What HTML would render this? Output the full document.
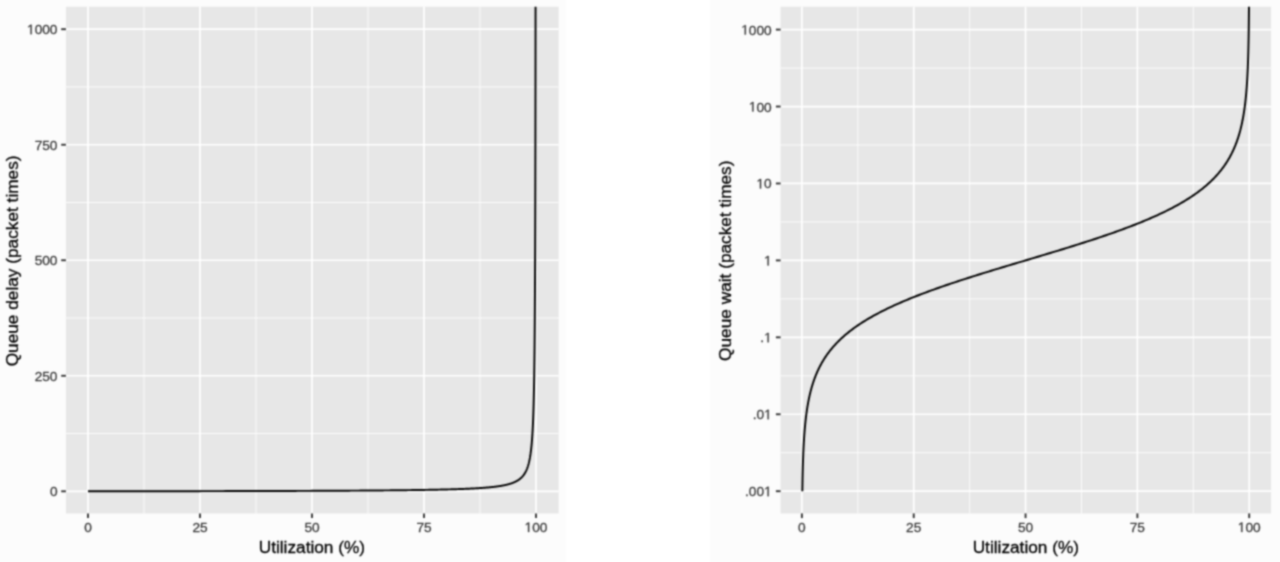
<!DOCTYPE html>
<html><head><meta charset="utf-8"><title>Queue delay vs utilization</title>
<style>
html,body{margin:0;padding:0;background:#ffffff;}
body{width:1280px;height:562px;overflow:hidden;}
svg{display:block;font-family:"Liberation Sans",sans-serif;}
</style></head><body>
<svg width="1280" height="562" viewBox="0 0 1280 562">
<defs><filter id="soft" color-interpolation-filters="sRGB" x="0" y="0" width="1280" height="562" filterUnits="userSpaceOnUse"><feConvolveMatrix order="5 1" kernelMatrix="0.02193 0.22851 0.49912 0.22851 0.02193" edgeMode="duplicate" preserveAlpha="true" result="h"/><feConvolveMatrix in="h" order="1 5" kernelMatrix="0.02193 0.22851 0.49912 0.22851 0.02193" edgeMode="duplicate" preserveAlpha="true"/></filter></defs>
<rect x="0" y="0" width="1280" height="562" fill="#ffffff"/>
<g filter="url(#soft)">
<rect x="-5" y="-5" width="1290" height="572" fill="#ffffff"/>
<g>
<rect x="0" y="-5" width="566" height="572" fill="#fcfcfc"/>
<rect x="65.9" y="6.8" width="492.70" height="506.60" fill="#e7e7e7"/>
<line x1="144.00" x2="144.00" y1="6.8" y2="513.4" stroke="#ffffff" stroke-width="0.85"/>
<line x1="256.00" x2="256.00" y1="6.8" y2="513.4" stroke="#ffffff" stroke-width="0.85"/>
<line x1="368.00" x2="368.00" y1="6.8" y2="513.4" stroke="#ffffff" stroke-width="0.85"/>
<line x1="480.00" x2="480.00" y1="6.8" y2="513.4" stroke="#ffffff" stroke-width="0.85"/>
<line x1="65.9" x2="558.6" y1="433.54" y2="433.54" stroke="#ffffff" stroke-width="0.85"/>
<line x1="65.9" x2="558.6" y1="318.01" y2="318.01" stroke="#ffffff" stroke-width="0.85"/>
<line x1="65.9" x2="558.6" y1="202.49" y2="202.49" stroke="#ffffff" stroke-width="0.85"/>
<line x1="65.9" x2="558.6" y1="86.96" y2="86.96" stroke="#ffffff" stroke-width="0.85"/>
<line x1="88.00" x2="88.00" y1="6.8" y2="513.4" stroke="#ffffff" stroke-width="1.7"/>
<line x1="88.00" x2="88.00" y1="513.4" y2="518.10" stroke="#333333" stroke-width="1.9"/>
<text x="84.19" y="532.00" font-size="13.7" fill="#3a3a3a" stroke="#3a3a3a" stroke-width="0.3">0</text>
<line x1="200.00" x2="200.00" y1="6.8" y2="513.4" stroke="#ffffff" stroke-width="1.7"/>
<line x1="200.00" x2="200.00" y1="513.4" y2="518.10" stroke="#333333" stroke-width="1.9"/>
<text x="192.38" y="532.00" font-size="13.7" fill="#3a3a3a" stroke="#3a3a3a" stroke-width="0.3">25</text>
<line x1="312.00" x2="312.00" y1="6.8" y2="513.4" stroke="#ffffff" stroke-width="1.7"/>
<line x1="312.00" x2="312.00" y1="513.4" y2="518.10" stroke="#333333" stroke-width="1.9"/>
<text x="304.38" y="532.00" font-size="13.7" fill="#3a3a3a" stroke="#3a3a3a" stroke-width="0.3">50</text>
<line x1="424.00" x2="424.00" y1="6.8" y2="513.4" stroke="#ffffff" stroke-width="1.7"/>
<line x1="424.00" x2="424.00" y1="513.4" y2="518.10" stroke="#333333" stroke-width="1.9"/>
<text x="416.38" y="532.00" font-size="13.7" fill="#3a3a3a" stroke="#3a3a3a" stroke-width="0.3">75</text>
<line x1="536.00" x2="536.00" y1="6.8" y2="513.4" stroke="#ffffff" stroke-width="1.7"/>
<line x1="536.00" x2="536.00" y1="513.4" y2="518.10" stroke="#333333" stroke-width="1.9"/>
<path transform="translate(524.57,532.00) scale(0.006689,-0.006689)" d="M515,0 L515,1237 L197,1010 L197,1180 L530,1409 L696,1409 L696,0 Z" fill="#3a3a3a" stroke="#3a3a3a" stroke-width="44.8"/><text x="532.19" y="532.00" font-size="13.7" fill="#3a3a3a" stroke="#3a3a3a" stroke-width="0.3">00</text>
<line x1="65.9" x2="558.6" y1="491.30" y2="491.30" stroke="#ffffff" stroke-width="1.7"/>
<line x1="61.20" x2="65.9" y1="491.30" y2="491.30" stroke="#333333" stroke-width="1.9"/>
<text x="49.88" y="496.30" font-size="13.7" fill="#3a3a3a" stroke="#3a3a3a" stroke-width="0.3">0</text>
<line x1="65.9" x2="558.6" y1="375.77" y2="375.77" stroke="#ffffff" stroke-width="1.7"/>
<line x1="61.20" x2="65.9" y1="375.77" y2="375.77" stroke="#333333" stroke-width="1.9"/>
<text x="34.64" y="380.77" font-size="13.7" fill="#3a3a3a" stroke="#3a3a3a" stroke-width="0.3">250</text>
<line x1="65.9" x2="558.6" y1="260.25" y2="260.25" stroke="#ffffff" stroke-width="1.7"/>
<line x1="61.20" x2="65.9" y1="260.25" y2="260.25" stroke="#333333" stroke-width="1.9"/>
<text x="34.64" y="265.25" font-size="13.7" fill="#3a3a3a" stroke="#3a3a3a" stroke-width="0.3">500</text>
<line x1="65.9" x2="558.6" y1="144.73" y2="144.73" stroke="#ffffff" stroke-width="1.7"/>
<line x1="61.20" x2="65.9" y1="144.73" y2="144.73" stroke="#333333" stroke-width="1.9"/>
<text x="34.64" y="149.73" font-size="13.7" fill="#3a3a3a" stroke="#3a3a3a" stroke-width="0.3">750</text>
<line x1="65.9" x2="558.6" y1="29.20" y2="29.20" stroke="#ffffff" stroke-width="1.7"/>
<line x1="61.20" x2="65.9" y1="29.20" y2="29.20" stroke="#333333" stroke-width="1.9"/>
<path transform="translate(27.02,34.20) scale(0.006689,-0.006689)" d="M515,0 L515,1237 L197,1010 L197,1180 L530,1409 L696,1409 L696,0 Z" fill="#3a3a3a" stroke="#3a3a3a" stroke-width="44.8"/><text x="34.64" y="34.20" font-size="13.7" fill="#3a3a3a" stroke="#3a3a3a" stroke-width="0.3">000</text>
<path d="M88.00,491.30 L92.69,491.30 L97.33,491.29 L101.93,491.29 L106.47,491.28 L110.97,491.28 L115.42,491.27 L119.82,491.26 L124.18,491.26 L128.49,491.25 L132.76,491.25 L136.98,491.24 L141.16,491.24 L145.29,491.23 L149.39,491.23 L153.43,491.22 L157.44,491.22 L161.40,491.21 L165.33,491.20 L169.21,491.20 L173.05,491.19 L176.85,491.19 L180.61,491.18 L184.33,491.17 L188.01,491.17 L191.66,491.16 L195.26,491.15 L198.83,491.15 L202.36,491.14 L205.85,491.14 L209.31,491.13 L212.73,491.12 L216.12,491.11 L219.47,491.11 L222.78,491.10 L226.06,491.09 L229.31,491.09 L232.52,491.08 L235.69,491.07 L238.84,491.07 L241.95,491.06 L245.03,491.05 L248.08,491.04 L251.09,491.04 L254.07,491.03 L257.03,491.02 L259.95,491.01 L262.84,491.00 L265.70,491.00 L268.53,490.99 L271.33,490.98 L274.10,490.97 L276.84,490.96 L279.56,490.95 L282.24,490.95 L284.90,490.94 L287.53,490.93 L290.13,490.92 L292.70,490.91 L295.25,490.90 L297.77,490.89 L300.27,490.88 L302.74,490.87 L305.18,490.87 L307.59,490.86 L309.99,490.85 L312.35,490.84 L314.69,490.83 L317.01,490.82 L319.30,490.81 L321.57,490.80 L323.82,490.79 L326.04,490.78 L328.24,490.77 L330.41,490.76 L332.57,490.74 L334.70,490.73 L336.81,490.72 L338.89,490.71 L340.95,490.70 L343.00,490.69 L345.02,490.68 L347.02,490.67 L349.00,490.66 L350.95,490.64 L352.89,490.63 L354.81,490.62 L356.71,490.61 L358.58,490.60 L360.44,490.58 L362.28,490.57 L364.10,490.56 L365.90,490.55 L367.68,490.53 L369.44,490.52 L371.19,490.51 L372.91,490.49 L374.62,490.48 L376.31,490.47 L377.98,490.45 L379.64,490.44 L381.27,490.42 L382.89,490.41 L384.50,490.40 L386.08,490.38 L387.65,490.37 L389.21,490.35 L390.74,490.34 L392.26,490.32 L393.77,490.31 L395.26,490.29 L396.73,490.28 L398.19,490.26 L399.63,490.24 L401.06,490.23 L402.47,490.21 L403.87,490.20 L405.26,490.18 L406.63,490.16 L407.98,490.15 L409.32,490.13 L410.65,490.11 L411.96,490.09 L413.26,490.08 L414.54,490.06 L415.82,490.04 L417.07,490.02 L418.32,490.00 L419.55,489.98 L420.77,489.97 L421.98,489.95 L423.17,489.93 L424.35,489.91 L425.52,489.89 L426.68,489.87 L427.82,489.85 L428.96,489.83 L430.08,489.81 L431.19,489.79 L432.28,489.77 L433.37,489.74 L434.44,489.72 L435.51,489.70 L436.56,489.68 L437.60,489.66 L438.63,489.64 L439.65,489.61 L440.66,489.59 L441.66,489.57 L442.65,489.54 L443.62,489.52 L444.59,489.50 L445.55,489.47 L446.49,489.45 L447.43,489.42 L448.36,489.40 L449.28,489.37 L450.18,489.35 L451.08,489.32 L451.97,489.30 L452.85,489.27 L453.72,489.25 L454.58,489.22 L455.44,489.19 L456.28,489.17 L457.12,489.14 L457.94,489.11 L458.76,489.08 L459.57,489.05 L460.37,489.02 L461.16,489.00 L461.94,488.97 L462.72,488.94 L463.49,488.91 L464.25,488.88 L465.00,488.85 L465.74,488.82 L466.48,488.78 L467.20,488.75 L467.92,488.72 L468.64,488.69 L469.34,488.66 L470.04,488.62 L470.73,488.59 L471.41,488.56 L472.09,488.52 L472.76,488.49 L473.42,488.45 L474.08,488.42 L474.73,488.38 L475.37,488.35 L476.00,488.31 L476.63,488.28 L477.25,488.24 L477.87,488.20 L478.48,488.16 L479.08,488.13 L479.67,488.09 L480.26,488.05 L480.85,488.01 L481.43,487.97 L482.00,487.93 L482.56,487.89 L483.12,487.85 L483.68,487.81 L484.22,487.76 L484.77,487.72 L485.30,487.68 L485.83,487.64 L486.36,487.59 L486.88,487.55 L487.39,487.50 L487.90,487.46 L488.40,487.41 L488.90,487.37 L489.40,487.32 L489.88,487.27 L490.37,487.23 L490.84,487.18 L491.32,487.13 L491.79,487.08 L492.25,487.03 L492.71,486.98 L493.16,486.93 L493.61,486.88 L494.05,486.83 L494.49,486.77 L494.93,486.72 L495.36,486.67 L495.78,486.61 L496.20,486.56 L496.62,486.51 L497.03,486.45 L497.44,486.39 L497.84,486.34 L498.24,486.28 L498.64,486.22 L499.03,486.16 L499.42,486.10 L499.80,486.04 L500.18,485.98 L500.55,485.92 L500.93,485.86 L501.29,485.80 L501.66,485.73 L502.02,485.67 L502.37,485.61 L502.72,485.54 L503.07,485.48 L503.42,485.41 L503.76,485.34 L504.10,485.27 L504.43,485.20 L504.76,485.14 L505.09,485.07 L505.41,484.99 L505.73,484.92 L506.05,484.85 L506.36,484.78 L506.67,484.70 L506.98,484.63 L507.28,484.55 L507.58,484.48 L507.88,484.40 L508.18,484.32 L508.47,484.24 L508.76,484.16 L509.04,484.08 L509.32,484.00 L509.60,483.92 L509.88,483.84 L510.15,483.75 L510.42,483.67 L510.69,483.58 L510.96,483.50 L511.22,483.41 L511.48,483.32 L511.73,483.23 L511.99,483.14 L512.24,483.05 L512.49,482.96 L512.73,482.86 L512.98,482.77 L513.22,482.67 L513.46,482.58 L513.69,482.48 L513.93,482.38 L514.16,482.28 L514.39,482.18 L514.61,482.08 L514.84,481.98 L515.06,481.88 L515.28,481.77 L515.50,481.67 L515.71,481.56 L515.92,481.45 L516.13,481.34 L516.34,481.23 L516.55,481.12 L516.75,481.01 L516.95,480.89 L517.15,480.78 L517.35,480.66 L517.54,480.55 L517.74,480.43 L517.93,480.31 L518.12,480.19 L518.31,480.06 L518.49,479.94 L518.67,479.81 L518.86,479.69 L519.03,479.56 L519.21,479.43 L519.39,479.30 L519.56,479.17 L519.73,479.03 L519.90,478.90 L520.07,478.76 L520.24,478.63 L520.40,478.49 L520.57,478.35 L520.73,478.21 L520.89,478.06 L521.05,477.92 L521.20,477.77 L521.36,477.62 L521.51,477.47 L521.66,477.32 L521.81,477.17 L521.96,477.01 L522.11,476.86 L522.26,476.70 L522.40,476.54 L522.54,476.38 L522.68,476.22 L522.82,476.05 L522.96,475.89 L523.10,475.72 L523.23,475.55 L523.37,475.38 L523.50,475.20 L523.63,475.03 L523.76,474.85 L523.89,474.67 L524.01,474.49 L524.14,474.31 L524.26,474.12 L524.39,473.94 L524.51,473.75 L524.63,473.56 L524.75,473.37 L524.86,473.17 L524.98,472.97 L525.10,472.78 L525.21,472.57 L525.32,472.37 L525.44,472.17 L525.55,471.96 L525.66,471.75 L525.76,471.54 L525.87,471.32 L525.98,471.11 L526.08,470.89 L526.19,470.67 L526.29,470.44 L526.39,470.22 L526.49,469.99 L526.59,469.76 L526.69,469.53 L526.79,469.29 L526.88,469.05 L526.98,468.81 L527.07,468.57 L527.17,468.33 L527.26,468.08 L527.35,467.83 L527.44,467.57 L527.53,467.32 L527.62,467.06 L527.71,466.80 L527.79,466.53 L527.88,466.27 L527.96,466.00 L528.05,465.72 L528.13,465.45 L528.21,465.17 L528.30,464.89 L528.38,464.61 L528.46,464.32 L528.54,464.03 L528.61,463.73 L528.69,463.44 L528.77,463.14 L528.84,462.83 L528.92,462.53 L528.99,462.22 L529.07,461.91 L529.14,461.59 L529.21,461.27 L529.28,460.95 L529.35,460.62 L529.42,460.29 L529.49,459.96 L529.56,459.62 L529.63,459.28 L529.69,458.94 L529.76,458.59 L529.82,458.24 L529.89,457.89 L529.95,457.53 L530.02,457.17 L530.08,456.80 L530.14,456.43 L530.20,456.06 L530.26,455.68 L530.32,455.30 L530.38,454.91 L530.44,454.52 L530.50,454.13 L530.56,453.73 L530.61,453.33 L530.67,452.92 L530.73,452.51 L530.78,452.09 L530.84,451.67 L530.89,451.25 L530.94,450.82 L531.00,450.39 L531.05,449.95 L531.10,449.51 L531.15,449.06 L531.20,448.61 L531.25,448.15 L531.30,447.69 L531.35,447.22 L531.40,446.75 L531.45,446.28 L531.50,445.79 L531.54,445.31 L531.59,444.82 L531.64,444.32 L531.68,443.82 L531.73,443.31 L531.77,442.80 L531.82,442.28 L531.86,441.76 L531.90,441.23 L531.95,440.69 L531.99,440.15 L532.03,439.61 L532.07,439.05 L532.11,438.50 L532.15,437.93 L532.19,437.36 L532.23,436.79 L532.27,436.21 L532.31,435.62 L532.35,435.02 L532.39,434.42 L532.43,433.82 L532.46,433.20 L532.50,432.58 L532.54,431.96 L532.57,431.32 L532.61,430.68 L532.65,430.04 L532.68,429.39 L532.72,428.73 L532.75,428.06 L532.78,427.38 L532.82,426.70 L532.85,426.01 L532.88,425.32 L532.92,424.62 L532.95,423.91 L532.98,423.19 L533.01,422.46 L533.04,421.73 L533.07,420.99 L533.11,420.24 L533.14,419.48 L533.17,418.72 L533.20,417.94 L533.22,417.16 L533.25,416.37 L533.28,415.58 L533.31,414.77 L533.34,413.95 L533.37,413.13 L533.39,412.30 L533.42,411.46 L533.45,410.61 L533.48,409.75 L533.50,408.88 L533.53,408.00 L533.55,407.12 L533.58,406.22 L533.61,405.32 L533.63,404.40 L533.66,403.48 L533.68,402.54 L533.70,401.60 L533.73,400.65 L533.75,399.68 L533.78,398.71 L533.80,397.72 L533.82,396.73 L533.84,395.72 L533.87,394.71 L533.89,393.68 L533.91,392.64 L533.93,391.59 L533.95,390.53 L533.98,389.46 L534.00,388.38 L534.02,387.28 L534.04,386.18 L534.06,385.06 L534.08,383.93 L534.10,382.79 L534.12,381.64 L534.14,380.47 L534.16,379.30 L534.18,378.11 L534.20,376.90 L534.22,375.69 L534.24,374.46 L534.25,373.22 L534.27,371.96 L534.29,370.70 L534.31,369.42 L534.33,368.12 L534.34,366.81 L534.36,365.49 L534.38,364.15 L534.39,362.80 L534.41,361.44 L534.43,360.06 L534.44,358.67 L534.46,357.26 L534.48,355.83 L534.49,354.40 L534.51,352.94 L534.52,351.47 L534.54,349.99 L534.56,348.49 L534.57,346.97 L534.59,345.44 L534.60,343.89 L534.61,342.33 L534.63,340.75 L534.64,339.15 L534.66,337.53 L534.67,335.90 L534.69,334.25 L534.70,332.59 L534.71,330.90 L534.73,329.20 L534.74,327.48 L534.75,325.74 L534.77,323.98 L534.78,322.21 L534.79,320.41 L534.80,318.60 L534.82,316.77 L534.83,314.92 L534.84,313.05 L534.85,311.15 L534.87,309.24 L534.88,307.31 L534.89,305.36 L534.90,303.39 L534.91,301.39 L534.92,299.38 L534.94,297.34 L534.95,295.29 L534.96,293.21 L534.97,291.11 L534.98,288.98 L534.99,286.84 L535.00,284.67 L535.01,282.48 L535.02,280.26 L535.03,278.03 L535.04,275.76 L535.05,273.48 L535.06,271.17 L535.07,268.83 L535.08,266.48 L535.09,264.09 L535.10,261.68 L535.11,259.25 L535.12,256.79 L535.13,254.30 L535.14,251.79 L535.15,249.25 L535.16,246.68 L535.16,244.09 L535.17,241.47 L535.18,238.82 L535.19,236.14 L535.20,233.44 L535.21,230.70 L535.22,227.94 L535.22,225.15 L535.23,222.33 L535.24,219.48 L535.25,216.60 L535.26,213.69 L535.26,210.74 L535.27,207.77 L535.28,204.76 L535.29,201.73 L535.29,198.66 L535.30,195.56 L535.31,192.42 L535.32,189.25 L535.32,186.05 L535.33,182.82 L535.34,179.55 L535.34,176.25 L535.35,172.91 L535.36,169.53 L535.36,166.12 L535.37,162.68 L535.38,159.20 L535.38,155.68 L535.39,152.12 L535.40,148.53 L535.40,144.89 L535.41,141.22 L535.42,137.51 L535.42,133.77 L535.43,129.98 L535.43,126.15 L535.44,122.28 L535.45,118.37 L535.45,114.42 L535.46,110.43 L535.46,106.39 L535.47,102.31 L535.47,98.19 L535.48,94.03 L535.48,89.82 L535.49,85.57 L535.50,81.27 L535.50,76.92 L535.51,72.53 L535.51,68.10 L535.52,63.61 L535.52,59.08 L535.53,54.51 L535.53,49.88 L535.54,45.20 L535.54,40.48 L535.55,35.70 L535.55,30.88 L535.56,26.00 L535.56,21.07 L535.56,16.09 L535.57,11.06 L535.57,6.80" fill="none" stroke="#000000" stroke-width="1.95" stroke-linejoin="round" stroke-linecap="butt"/>
<text x="311.90" y="552.50" font-size="17.25" fill="#000000" stroke="#000000" stroke-width="0.3" text-anchor="middle">Utilization (%)</text>
<text transform="translate(17.90,260.90) rotate(-90)" font-size="17.25" fill="#000000" stroke="#000000" stroke-width="0.3" text-anchor="middle">Queue delay (packet times)</text>
</g>
<g>
<rect x="710" y="-5" width="575" height="572" fill="#fcfcfc"/>
<rect x="780.6" y="6.7" width="490.50" height="506.70" fill="#e7e7e7"/>
<line x1="857.81" x2="857.81" y1="6.7" y2="513.4" stroke="#ffffff" stroke-width="0.85"/>
<line x1="969.64" x2="969.64" y1="6.7" y2="513.4" stroke="#ffffff" stroke-width="0.85"/>
<line x1="1081.46" x2="1081.46" y1="6.7" y2="513.4" stroke="#ffffff" stroke-width="0.85"/>
<line x1="1193.29" x2="1193.29" y1="6.7" y2="513.4" stroke="#ffffff" stroke-width="0.85"/>
<line x1="780.6" x2="1271.1" y1="452.73" y2="452.73" stroke="#ffffff" stroke-width="0.85"/>
<line x1="780.6" x2="1271.1" y1="375.80" y2="375.80" stroke="#ffffff" stroke-width="0.85"/>
<line x1="780.6" x2="1271.1" y1="298.87" y2="298.87" stroke="#ffffff" stroke-width="0.85"/>
<line x1="780.6" x2="1271.1" y1="221.93" y2="221.93" stroke="#ffffff" stroke-width="0.85"/>
<line x1="780.6" x2="1271.1" y1="145.00" y2="145.00" stroke="#ffffff" stroke-width="0.85"/>
<line x1="780.6" x2="1271.1" y1="68.07" y2="68.07" stroke="#ffffff" stroke-width="0.85"/>
<line x1="801.90" x2="801.90" y1="6.7" y2="513.4" stroke="#ffffff" stroke-width="1.7"/>
<line x1="801.90" x2="801.90" y1="513.4" y2="518.10" stroke="#333333" stroke-width="1.9"/>
<text x="798.09" y="532.00" font-size="13.7" fill="#3a3a3a" stroke="#3a3a3a" stroke-width="0.3">0</text>
<line x1="913.73" x2="913.73" y1="6.7" y2="513.4" stroke="#ffffff" stroke-width="1.7"/>
<line x1="913.73" x2="913.73" y1="513.4" y2="518.10" stroke="#333333" stroke-width="1.9"/>
<text x="906.11" y="532.00" font-size="13.7" fill="#3a3a3a" stroke="#3a3a3a" stroke-width="0.3">25</text>
<line x1="1025.55" x2="1025.55" y1="6.7" y2="513.4" stroke="#ffffff" stroke-width="1.7"/>
<line x1="1025.55" x2="1025.55" y1="513.4" y2="518.10" stroke="#333333" stroke-width="1.9"/>
<text x="1017.93" y="532.00" font-size="13.7" fill="#3a3a3a" stroke="#3a3a3a" stroke-width="0.3">50</text>
<line x1="1137.38" x2="1137.38" y1="6.7" y2="513.4" stroke="#ffffff" stroke-width="1.7"/>
<line x1="1137.38" x2="1137.38" y1="513.4" y2="518.10" stroke="#333333" stroke-width="1.9"/>
<text x="1129.76" y="532.00" font-size="13.7" fill="#3a3a3a" stroke="#3a3a3a" stroke-width="0.3">75</text>
<line x1="1249.20" x2="1249.20" y1="6.7" y2="513.4" stroke="#ffffff" stroke-width="1.7"/>
<line x1="1249.20" x2="1249.20" y1="513.4" y2="518.10" stroke="#333333" stroke-width="1.9"/>
<path transform="translate(1237.77,532.00) scale(0.006689,-0.006689)" d="M515,0 L515,1237 L197,1010 L197,1180 L530,1409 L696,1409 L696,0 Z" fill="#3a3a3a" stroke="#3a3a3a" stroke-width="44.8"/><text x="1245.39" y="532.00" font-size="13.7" fill="#3a3a3a" stroke="#3a3a3a" stroke-width="0.3">00</text>
<line x1="780.6" x2="1271.1" y1="491.20" y2="491.20" stroke="#ffffff" stroke-width="1.7"/>
<line x1="775.90" x2="780.6" y1="491.20" y2="491.20" stroke="#333333" stroke-width="1.9"/>
<text x="745.04" y="496.20" font-size="13.7" fill="#3a3a3a" stroke="#3a3a3a" stroke-width="0.3">.00</text><path transform="translate(764.08,496.20) scale(0.006689,-0.006689)" d="M515,0 L515,1237 L197,1010 L197,1180 L530,1409 L696,1409 L696,0 Z" fill="#3a3a3a" stroke="#3a3a3a" stroke-width="44.8"/>
<line x1="780.6" x2="1271.1" y1="414.27" y2="414.27" stroke="#ffffff" stroke-width="1.7"/>
<line x1="775.90" x2="780.6" y1="414.27" y2="414.27" stroke="#333333" stroke-width="1.9"/>
<text x="752.66" y="419.27" font-size="13.7" fill="#3a3a3a" stroke="#3a3a3a" stroke-width="0.3">.0</text><path transform="translate(764.08,419.27) scale(0.006689,-0.006689)" d="M515,0 L515,1237 L197,1010 L197,1180 L530,1409 L696,1409 L696,0 Z" fill="#3a3a3a" stroke="#3a3a3a" stroke-width="44.8"/>
<line x1="780.6" x2="1271.1" y1="337.33" y2="337.33" stroke="#ffffff" stroke-width="1.7"/>
<line x1="775.90" x2="780.6" y1="337.33" y2="337.33" stroke="#333333" stroke-width="1.9"/>
<text x="760.27" y="342.33" font-size="13.7" fill="#3a3a3a" stroke="#3a3a3a" stroke-width="0.3">.</text><path transform="translate(764.08,342.33) scale(0.006689,-0.006689)" d="M515,0 L515,1237 L197,1010 L197,1180 L530,1409 L696,1409 L696,0 Z" fill="#3a3a3a" stroke="#3a3a3a" stroke-width="44.8"/>
<line x1="780.6" x2="1271.1" y1="260.40" y2="260.40" stroke="#ffffff" stroke-width="1.7"/>
<line x1="775.90" x2="780.6" y1="260.40" y2="260.40" stroke="#333333" stroke-width="1.9"/>
<path transform="translate(764.08,265.40) scale(0.006689,-0.006689)" d="M515,0 L515,1237 L197,1010 L197,1180 L530,1409 L696,1409 L696,0 Z" fill="#3a3a3a" stroke="#3a3a3a" stroke-width="44.8"/>
<line x1="780.6" x2="1271.1" y1="183.47" y2="183.47" stroke="#ffffff" stroke-width="1.7"/>
<line x1="775.90" x2="780.6" y1="183.47" y2="183.47" stroke="#333333" stroke-width="1.9"/>
<path transform="translate(756.46,188.47) scale(0.006689,-0.006689)" d="M515,0 L515,1237 L197,1010 L197,1180 L530,1409 L696,1409 L696,0 Z" fill="#3a3a3a" stroke="#3a3a3a" stroke-width="44.8"/><text x="764.08" y="188.47" font-size="13.7" fill="#3a3a3a" stroke="#3a3a3a" stroke-width="0.3">0</text>
<line x1="780.6" x2="1271.1" y1="106.53" y2="106.53" stroke="#ffffff" stroke-width="1.7"/>
<line x1="775.90" x2="780.6" y1="106.53" y2="106.53" stroke="#333333" stroke-width="1.9"/>
<path transform="translate(748.84,111.53) scale(0.006689,-0.006689)" d="M515,0 L515,1237 L197,1010 L197,1180 L530,1409 L696,1409 L696,0 Z" fill="#3a3a3a" stroke="#3a3a3a" stroke-width="44.8"/><text x="756.46" y="111.53" font-size="13.7" fill="#3a3a3a" stroke="#3a3a3a" stroke-width="0.3">00</text>
<line x1="780.6" x2="1271.1" y1="29.60" y2="29.60" stroke="#ffffff" stroke-width="1.7"/>
<line x1="775.90" x2="780.6" y1="29.60" y2="29.60" stroke="#333333" stroke-width="1.9"/>
<path transform="translate(741.22,34.60) scale(0.006689,-0.006689)" d="M515,0 L515,1237 L197,1010 L197,1180 L530,1409 L696,1409 L696,0 Z" fill="#3a3a3a" stroke="#3a3a3a" stroke-width="44.8"/><text x="748.84" y="34.60" font-size="13.7" fill="#3a3a3a" stroke="#3a3a3a" stroke-width="0.3">000</text>
<path d="M802.35,491.20 L802.36,490.39 L802.37,489.58 L802.38,488.78 L802.39,487.97 L802.40,487.16 L802.42,486.36 L802.43,485.55 L802.44,484.74 L802.46,483.93 L802.47,483.12 L802.48,482.32 L802.50,481.51 L802.51,480.70 L802.53,479.89 L802.54,479.09 L802.56,478.28 L802.57,477.47 L802.59,476.66 L802.61,475.86 L802.62,475.05 L802.64,474.24 L802.66,473.44 L802.68,472.63 L802.70,471.82 L802.72,471.01 L802.74,470.20 L802.76,469.40 L802.78,468.59 L802.80,467.78 L802.82,466.97 L802.84,466.17 L802.87,465.36 L802.89,464.55 L802.92,463.75 L802.94,462.94 L802.97,462.13 L802.99,461.32 L803.02,460.51 L803.05,459.71 L803.07,458.90 L803.10,458.09 L803.13,457.29 L803.16,456.48 L803.19,455.67 L803.22,454.86 L803.26,454.05 L803.29,453.25 L803.32,452.44 L803.36,451.63 L803.39,450.82 L803.43,450.02 L803.47,449.21 L803.50,448.40 L803.54,447.59 L803.58,446.79 L803.62,445.98 L803.67,445.17 L803.71,444.37 L803.75,443.56 L803.80,442.75 L803.85,441.94 L803.89,441.13 L803.94,440.33 L803.99,439.52 L804.04,438.71 L804.09,437.90 L804.15,437.10 L804.20,436.29 L804.26,435.48 L804.32,434.68 L804.37,433.87 L804.43,433.06 L804.50,432.25 L804.56,431.44 L804.62,430.64 L804.69,429.83 L804.76,429.02 L804.83,428.21 L804.90,427.41 L804.97,426.60 L805.05,425.79 L805.12,424.99 L805.20,424.18 L805.28,423.37 L805.36,422.56 L805.45,421.75 L805.53,420.95 L805.62,420.14 L805.71,419.33 L805.80,418.52 L805.90,417.72 L805.99,416.91 L806.09,416.10 L806.20,415.30 L806.30,414.49 L806.41,413.68 L806.52,412.87 L806.63,412.06 L806.74,411.26 L806.86,410.45 L806.98,409.64 L807.10,408.83 L807.23,408.03 L807.36,407.22 L807.49,406.41 L807.62,405.61 L807.76,404.80 L807.90,403.99 L808.05,403.18 L808.20,402.38 L808.35,401.57 L808.50,400.76 L808.66,399.95 L808.82,399.14 L808.99,398.34 L809.16,397.53 L809.34,396.72 L809.52,395.91 L809.70,395.11 L809.89,394.30 L810.08,393.49 L810.27,392.69 L810.47,391.88 L810.68,391.07 L810.89,390.26 L811.11,389.45 L811.33,388.65 L811.55,387.84 L811.78,387.03 L812.02,386.22 L812.26,385.42 L812.51,384.61 L812.76,383.80 L813.02,383.00 L813.29,382.19 L813.56,381.38 L813.83,380.57 L814.12,379.76 L814.41,378.96 L814.71,378.15 L815.01,377.34 L815.32,376.53 L815.64,375.73 L815.97,374.92 L816.30,374.11 L816.64,373.31 L816.99,372.50 L817.34,371.69 L817.71,370.88 L818.08,370.07 L818.46,369.27 L818.85,368.46 L819.25,367.65 L819.66,366.85 L820.08,366.04 L820.50,365.23 L820.94,364.42 L821.38,363.62 L821.84,362.81 L822.30,362.00 L822.78,361.19 L823.27,360.38 L823.76,359.58 L824.27,358.77 L824.79,357.96 L825.32,357.15 L825.86,356.35 L826.42,355.54 L826.98,354.73 L827.56,353.93 L828.15,353.12 L828.76,352.31 L829.37,351.50 L830.00,350.69 L830.65,349.89 L831.30,349.08 L831.97,348.27 L832.66,347.47 L833.36,346.66 L834.07,345.85 L834.80,345.04 L835.55,344.24 L836.31,343.43 L837.08,342.62 L837.87,341.81 L838.68,341.00 L839.50,340.20 L840.34,339.39 L841.20,338.58 L842.08,337.77 L842.97,336.97 L843.88,336.16 L844.81,335.35 L845.76,334.54 L846.72,333.74 L847.71,332.93 L848.71,332.12 L849.73,331.31 L850.77,330.51 L851.84,329.70 L852.92,328.89 L854.02,328.08 L855.14,327.28 L856.29,326.47 L857.45,325.66 L858.64,324.86 L859.85,324.05 L861.08,323.24 L862.33,322.43 L863.60,321.62 L864.90,320.82 L866.22,320.01 L867.56,319.20 L868.93,318.39 L870.32,317.59 L871.73,316.78 L873.17,315.97 L874.63,315.16 L876.11,314.36 L877.62,313.55 L879.15,312.74 L880.71,311.94 L882.29,311.13 L883.89,310.32 L885.52,309.51 L887.18,308.71 L888.86,307.90 L890.57,307.09 L892.30,306.28 L894.05,305.48 L895.83,304.67 L897.64,303.86 L899.47,303.05 L901.33,302.25 L903.21,301.44 L905.12,300.63 L907.05,299.82 L909.00,299.01 L910.98,298.21 L912.99,297.40 L915.02,296.59 L917.07,295.78 L919.15,294.98 L921.26,294.17 L923.38,293.36 L925.53,292.56 L927.71,291.75 L929.90,290.94 L932.12,290.13 L934.37,289.33 L936.63,288.52 L938.92,287.71 L941.22,286.90 L943.55,286.10 L945.90,285.29 L948.27,284.48 L950.66,283.67 L953.07,282.87 L955.50,282.06 L957.95,281.25 L960.41,280.44 L962.89,279.63 L965.39,278.83 L967.91,278.02 L970.44,277.21 L972.98,276.40 L975.54,275.60 L978.12,274.79 L980.71,273.98 L983.31,273.17 L985.92,272.37 L988.54,271.56 L991.18,270.75 L993.82,269.94 L996.47,269.14 L999.13,268.33 L1001.80,267.52 L1004.48,266.71 L1007.16,265.91 L1009.85,265.10 L1012.54,264.29 L1015.23,263.49 L1017.93,262.68 L1020.63,261.87 L1023.33,261.06 L1026.04,260.25 L1028.74,259.45 L1031.44,258.64 L1034.14,257.83 L1036.84,257.02 L1039.53,256.22 L1042.22,255.41 L1044.90,254.60 L1047.58,253.79 L1050.26,252.99 L1052.92,252.18 L1055.58,251.37 L1058.23,250.56 L1060.87,249.76 L1063.50,248.95 L1066.12,248.14 L1068.73,247.34 L1071.32,246.53 L1073.91,245.72 L1076.48,244.91 L1079.03,244.10 L1081.57,243.30 L1084.10,242.49 L1086.61,241.68 L1089.10,240.88 L1091.58,240.07 L1094.03,239.26 L1096.47,238.45 L1098.89,237.65 L1101.30,236.84 L1103.68,236.03 L1106.04,235.22 L1108.38,234.42 L1110.71,233.61 L1113.01,232.80 L1115.28,231.99 L1117.54,231.19 L1119.78,230.38 L1121.99,229.57 L1124.18,228.76 L1126.34,227.95 L1128.48,227.15 L1130.60,226.34 L1132.70,225.53 L1134.77,224.73 L1136.81,223.92 L1138.83,223.11 L1140.83,222.30 L1142.80,221.50 L1144.75,220.69 L1146.67,219.88 L1148.57,219.07 L1150.44,218.26 L1152.29,217.46 L1154.11,216.65 L1155.91,215.84 L1157.68,215.04 L1159.43,214.23 L1161.15,213.42 L1162.85,212.61 L1164.52,211.81 L1166.16,211.00 L1167.79,210.19 L1169.38,209.38 L1170.96,208.58 L1172.50,207.77 L1174.03,206.96 L1175.53,206.15 L1177.00,205.34 L1178.45,204.54 L1179.88,203.73 L1181.28,202.92 L1182.66,202.11 L1184.02,201.31 L1185.36,200.50 L1186.67,199.69 L1187.96,198.88 L1189.22,198.08 L1190.47,197.27 L1191.69,196.46 L1192.89,195.66 L1194.07,194.85 L1195.23,194.04 L1196.36,193.23 L1197.48,192.43 L1198.57,191.62 L1199.65,190.81 L1200.70,190.00 L1201.74,189.19 L1202.75,188.39 L1203.75,187.58 L1204.73,186.77 L1205.69,185.96 L1206.63,185.16 L1207.55,184.35 L1208.45,183.54 L1209.34,182.74 L1210.21,181.93 L1211.06,181.12 L1211.89,180.31 L1212.71,179.50 L1213.51,178.70 L1214.30,177.89 L1215.07,177.08 L1215.82,176.27 L1216.56,175.47 L1217.29,174.66 L1217.99,173.85 L1218.69,173.05 L1219.37,172.24 L1220.04,171.43 L1220.69,170.62 L1221.33,169.81 L1221.95,169.01 L1222.56,168.20 L1223.16,167.39 L1223.75,166.59 L1224.32,165.78 L1224.88,164.97 L1225.43,164.16 L1225.97,163.36 L1226.50,162.55 L1227.01,161.74 L1227.52,160.93 L1228.01,160.12 L1228.49,159.32 L1228.97,158.51 L1229.43,157.70 L1229.88,156.90 L1230.32,156.09 L1230.75,155.28 L1231.18,154.47 L1231.59,153.66 L1231.99,152.86 L1232.39,152.05 L1232.78,151.24 L1233.15,150.44 L1233.52,149.63 L1233.88,148.82 L1234.24,148.01 L1234.58,147.20 L1234.92,146.40 L1235.25,145.59 L1235.57,144.78 L1235.89,143.98 L1236.20,143.17 L1236.50,142.36 L1236.80,141.55 L1237.08,140.75 L1237.37,139.94 L1237.64,139.13 L1237.91,138.32 L1238.17,137.51 L1238.43,136.71 L1238.68,135.90 L1238.93,135.09 L1239.17,134.28 L1239.40,133.48 L1239.63,132.67 L1239.85,131.86 L1240.07,131.06 L1240.29,130.25 L1240.49,129.44 L1240.70,128.63 L1240.90,127.82 L1241.09,127.02 L1241.28,126.21 L1241.47,125.40 L1241.65,124.60 L1241.83,123.79 L1242.00,122.98 L1242.17,122.17 L1242.33,121.37 L1242.50,120.56 L1242.65,119.75 L1242.81,118.94 L1242.96,118.13 L1243.11,117.33 L1243.25,116.52 L1243.39,115.71 L1243.53,114.90 L1243.66,114.10 L1243.79,113.29 L1243.92,112.48 L1244.04,111.68 L1244.16,110.87 L1244.28,110.06 L1244.40,109.25 L1244.51,108.44 L1244.62,107.64 L1244.73,106.83 L1244.84,106.02 L1244.94,105.22 L1245.04,104.41 L1245.14,103.60 L1245.24,102.79 L1245.33,101.99 L1245.42,101.18 L1245.51,100.37 L1245.60,99.56 L1245.68,98.75 L1245.77,97.95 L1245.85,97.14 L1245.93,96.33 L1246.01,95.53 L1246.08,94.72 L1246.16,93.91 L1246.23,93.10 L1246.30,92.29 L1246.37,91.49 L1246.43,90.68 L1246.50,89.87 L1246.56,89.07 L1246.63,88.26 L1246.69,87.45 L1246.75,86.64 L1246.81,85.83 L1246.86,85.03 L1246.92,84.22 L1246.97,83.41 L1247.03,82.61 L1247.08,81.80 L1247.13,80.99 L1247.18,80.18 L1247.22,79.38 L1247.27,78.57 L1247.32,77.76 L1247.36,76.95 L1247.41,76.14 L1247.45,75.34 L1247.49,74.53 L1247.53,73.72 L1247.57,72.92 L1247.61,72.11 L1247.65,71.30 L1247.68,70.49 L1247.72,69.69 L1247.76,68.88 L1247.79,68.07 L1247.82,67.26 L1247.86,66.45 L1247.89,65.65 L1247.92,64.84 L1247.95,64.03 L1247.98,63.23 L1248.01,62.42 L1248.04,61.61 L1248.06,60.80 L1248.09,59.99 L1248.12,59.19 L1248.14,58.38 L1248.17,57.57 L1248.19,56.77 L1248.22,55.96 L1248.24,55.15 L1248.26,54.34 L1248.29,53.53 L1248.31,52.73 L1248.33,51.92 L1248.35,51.11 L1248.37,50.30 L1248.39,49.50 L1248.41,48.69 L1248.43,47.88 L1248.45,47.07 L1248.46,46.27 L1248.48,45.46 L1248.50,44.65 L1248.52,43.84 L1248.53,43.04 L1248.55,42.23 L1248.56,41.42 L1248.58,40.62 L1248.59,39.81 L1248.61,39.00 L1248.62,38.19 L1248.64,37.38 L1248.65,36.58 L1248.66,35.77 L1248.68,34.96 L1248.69,34.15 L1248.70,33.35 L1248.71,32.54 L1248.72,31.73 L1248.74,30.93 L1248.75,30.12 L1248.76,29.31 L1248.77,28.50 L1248.78,27.69 L1248.79,26.89 L1248.80,26.08 L1248.81,25.27 L1248.82,24.47 L1248.83,23.66 L1248.83,22.85 L1248.84,22.04 L1248.85,21.24 L1248.86,20.43 L1248.87,19.62 L1248.88,18.81 L1248.88,18.00 L1248.89,17.20 L1248.90,16.39 L1248.91,15.58 L1248.91,14.78 L1248.92,13.97 L1248.93,13.16 L1248.93,12.35 L1248.94,11.54 L1248.95,10.74 L1248.95,9.93 L1248.96,9.12 L1248.96,8.32 L1248.97,7.51 L1248.97,6.70" fill="none" stroke="#000000" stroke-width="1.95" stroke-linejoin="round" stroke-linecap="butt"/>
<text x="1025.85" y="552.50" font-size="17.25" fill="#000000" stroke="#000000" stroke-width="0.3" text-anchor="middle">Utilization (%)</text>
<text transform="translate(731.40,260.70) rotate(-90)" font-size="17.25" fill="#000000" stroke="#000000" stroke-width="0.3" text-anchor="middle">Queue wait (packet times)</text>
</g>
</g>
</svg>
</body></html>
